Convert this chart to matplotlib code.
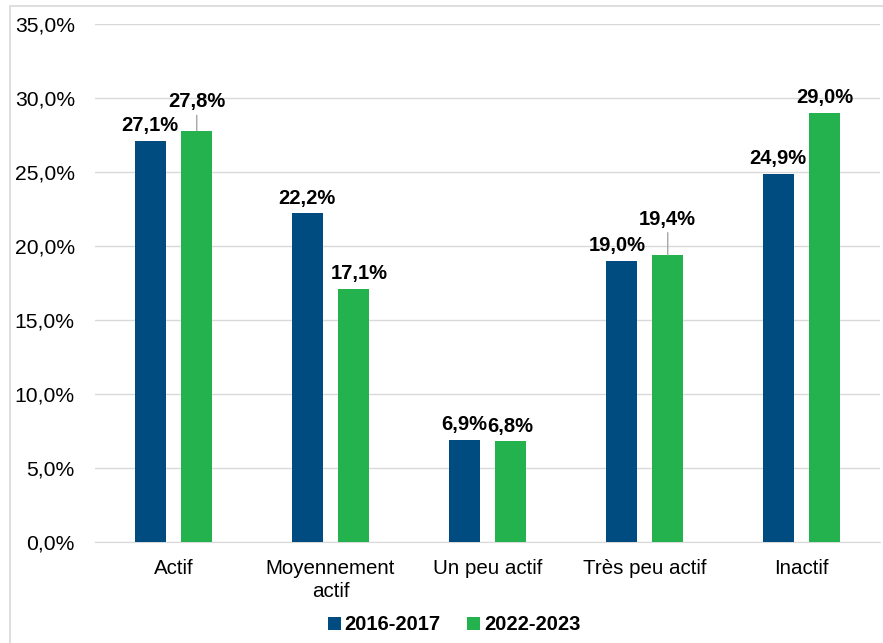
import numpy as np
import matplotlib.pyplot as plt
from matplotlib.patches import Rectangle

plt.rcParams['font.family'] = ['Liberation Sans', 'DejaVu Sans']

categories = ['Actif', 'Moyennement\nactif', 'Un peu actif', 'Très peu actif', 'Inactif']
series_names = ['2016-2017', '2022-2023']
v2016 = [27.1, 22.2, 6.9, 19.0, 24.9]
v2022 = [27.8, 17.1, 6.8, 19.4, 29.0]

blue = '#004b7f'
green = '#24b24e'

fig = plt.figure(figsize=(8.83, 6.43), dpi=100)
ax = fig.add_axes([0.1076, 0.157, 0.889, 0.8056])

# light frame (left + top edges visible, rest runs off the image)
fig.patches.append(Rectangle((10 / 883, -0.05), 1.0, 1 - 6 / 643 + 0.05,
                             transform=fig.transFigure, fill=False,
                             edgecolor='#d9d9d9', linewidth=1.2))

x = np.arange(len(categories))
w = 0.2
off = 0.148
ax.bar(x - off, v2016, w, color=blue, label=series_names[0], zorder=3)
ax.bar(x + off, v2022, w, color=green, label=series_names[1], zorder=3)


def fmt(v):
    return f'{v:.1f}%'.replace('.', ',')


# label offsets in points; big dy gets a leader line
pos1 = [(0, 4), (0, 4), (0, 4), (-3, 4), (0, 4)]
pos2 = [(0, 14), (4, 4), (0, 4), (0, 19), (0, 4)]
for i, v in enumerate(v2016):
    ax.annotate(fmt(v), (x[i] - off, v), xytext=pos1[i], textcoords='offset points',
                ha='center', va='bottom', fontsize=14.5, fontweight='bold')
for i, v in enumerate(v2022):
    dx, dy = pos2[i]
    ax.annotate(fmt(v), (x[i] + off, v), xytext=(dx, dy), textcoords='offset points',
                ha='center', va='bottom', fontsize=14.5, fontweight='bold')
    if dy > 10:
        ax.annotate('', (x[i] + off, v), xytext=(0, dy - 3), textcoords='offset points',
                    arrowprops=dict(arrowstyle='-', color='#a6a6a6', lw=1,
                                    shrinkA=0, shrinkB=0))

ax.set_xlim(-0.5, 4.5)
ax.set_ylim(0, 35)
ax.set_yticks(np.arange(0, 36, 5))
ax.set_yticklabels([fmt(t) for t in np.arange(0, 36, 5)], fontsize=15.2)
ax.set_xticks(x)
ax.set_xticklabels(categories, fontsize=14.8, linespacing=1.3)
ax.tick_params(axis='x', length=0, pad=12)
ax.tick_params(axis='y', length=0, pad=14.5)
ax.yaxis.grid(True, color='#d9d9d9', linewidth=1)
ax.set_axisbelow(True)
for s in ['top', 'right', 'left']:
    ax.spines[s].set_visible(False)
ax.spines['bottom'].set_color('#d9d9d9')

fig.legend(loc='center', bbox_to_anchor=(454 / 883, 1 - 625 / 643), ncol=2,
           frameon=False, handlelength=0.65, handleheight=0.65,
           handletextpad=0.2, columnspacing=1.3,
           prop={'size': 14.5, 'weight': 'bold'})

fig.savefig('out.png', dpi=100)
